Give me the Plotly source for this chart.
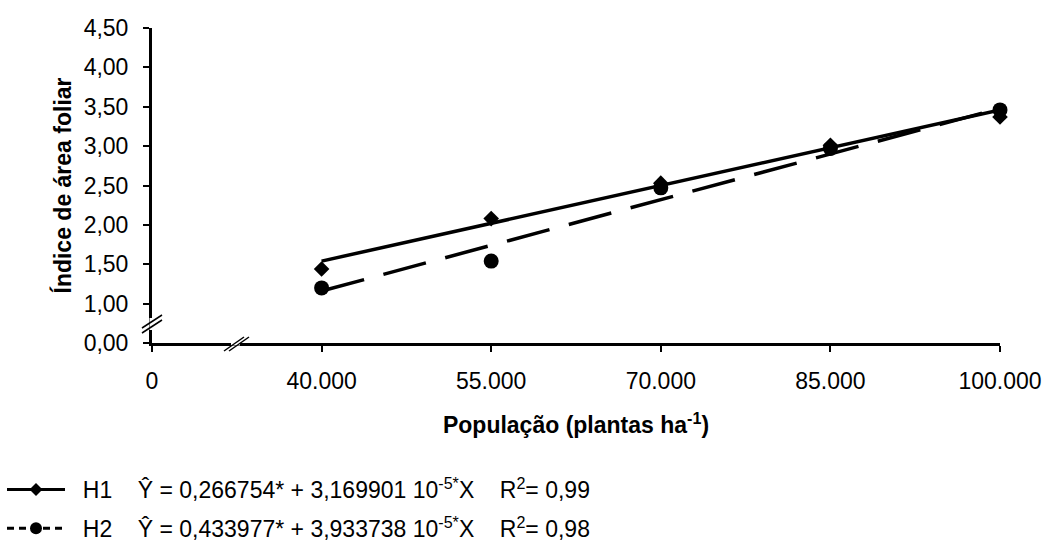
import plotly.graph_objects as go

# ---- data ----
populacao = [40000, 55000, 70000, 85000, 100000]
h1_iaf = [1.44, 2.08, 2.53, 3.01, 3.37]
h2_iaf = [1.20, 1.54, 2.47, 2.97, 3.46]

# fitted lines (end points)
fit_x = [40000, 100000]
h1_fit = [1.54, 3.46]
h2_fit = [1.16, 3.48]

x_tickvals = [25000, 40000, 55000, 70000, 85000, 100000]
x_ticktext = ["0", "40.000", "55.000", "70.000", "85.000", "100.000"]
y_tickvals = [0.5, 1.0, 1.5, 2.0, 2.5, 3.0, 3.5, 4.0, 4.5]
y_ticktext = ["0,00", "1,00", "1,50", "2,00", "2,50", "3,00", "3,50", "4,00", "4,50"]

SP = "\u00a0" * 4
LEAD = "\u00a0" * 2
h1_label = LEAD + "H1" + SP + "Ŷ = 0,266754* + 3,169901 10<sup>-5*</sup>X" + SP + "R<sup>2</sup>= 0,99"
h2_label = LEAD + "H2" + SP + "Ŷ = 0,433977* + 3,933738 10<sup>-5*</sup>X" + SP + "R<sup>2</sup>= 0,98"

FONT = "Liberation Sans, Arial, sans-serif"
FS = 23

fig = go.Figure()

# trend lines
fig.add_trace(go.Scatter(x=fit_x, y=h1_fit, mode="lines",
                         line=dict(color="black", width=3.5),
                         showlegend=False, cliponaxis=False))
fig.add_trace(go.Scatter(x=fit_x, y=h2_fit, mode="lines",
                         line=dict(color="black", width=3.5, dash="44px,20px"),
                         showlegend=False, cliponaxis=False))
# observed points
fig.add_trace(go.Scatter(x=populacao, y=h2_iaf, mode="markers",
                         marker=dict(symbol="circle", size=15, color="black"),
                         showlegend=False, cliponaxis=False))
fig.add_trace(go.Scatter(x=populacao, y=h1_iaf, mode="markers",
                         marker=dict(symbol="diamond", size=12, color="black"),
                         showlegend=False, cliponaxis=False))

# legend-only entries
fig.add_trace(go.Scatter(x=[None], y=[None], mode="lines+markers", name=h1_label,
                         legendgroup="h1",
                         line=dict(color="black", width=3),
                         marker=dict(symbol="diamond", size=10, color="black")))
fig.add_trace(go.Scatter(x=[None], y=[None], mode="lines+markers", name=h2_label,
                         legendgroup="h2",
                         line=dict(color="black", width=3, dash="7px,5px"),
                         marker=dict(symbol="circle", size=12, color="black")))

# axis break marks (decorations, in paper coordinates)
L, R, T, B = 152, 46, 28, 203
PW, PH = 1046 - L - R, 546 - T - B


def px(xp):
    return (xp - L) / PW


def py(yp):
    return (546 - B - yp) / PH


shapes = []
# y-axis break
shapes.append(dict(type="line", xref="paper", yref="paper",
                   x0=px(152), x1=px(152), y0=py(330), y1=py(318),
                   line=dict(color="white", width=5)))
for dy in (0, -5):
    shapes.append(dict(type="line", xref="paper", yref="paper",
                       x0=px(142), y0=py(333 + dy), x1=px(162), y1=py(320 + dy),
                       line=dict(color="black", width=1.5)))
# x-axis break
shapes.append(dict(type="line", xref="paper", yref="paper",
                   x0=px(231), x1=px(240), y0=py(343), y1=py(343),
                   line=dict(color="white", width=5)))
for dx in (0, 5):
    shapes.append(dict(type="line", xref="paper", yref="paper",
                       x0=px(224 + dx), y0=py(351), x1=px(244 + dx), y1=py(337),
                       line=dict(color="black", width=1.5)))

fig.update_layout(
    width=1046, height=546,
    margin=dict(l=L, r=R, t=T, b=B, autoexpand=False),
    paper_bgcolor="white", plot_bgcolor="white",
    font=dict(family=FONT, size=FS, color="black"),
    shapes=shapes,
    showlegend=True,
    legend=dict(x=px(2), y=py(468), xanchor="left", yanchor="top",
                font=dict(family=FONT, size=FS, color="black"),
                itemwidth=58, tracegroupgap=6, bgcolor="rgba(0,0,0,0)"),
    xaxis=dict(range=[25000, 100000], tickvals=x_tickvals, ticktext=x_ticktext,
               showgrid=False, zeroline=False, showline=True,
               linecolor="black", linewidth=3,
               ticks="outside", ticklen=6, tickwidth=2, tickcolor="black",
               ticklabelstandoff=9,
               tickfont=dict(family=FONT, size=FS),
               title=dict(text="<b>População (plantas ha<sup>-1</sup>)</b>",
                          font=dict(family=FONT, size=FS), standoff=25)),
    yaxis=dict(range=[0.5, 4.5], tickvals=y_tickvals, ticktext=y_ticktext,
               showgrid=False, zeroline=False, showline=True,
               linecolor="black", linewidth=3,
               ticks="outside", ticklen=6, tickwidth=2, tickcolor="black",
               ticklabelstandoff=10,
               tickfont=dict(family=FONT, size=FS),
               title=dict(text="<b>Índice de área foliar</b>",
                          font=dict(family=FONT, size=FS), standoff=6)),
)

fig.write_html("out.html", config={"displayModeBar": False},
               post_script="document.body.style.margin='0';")
